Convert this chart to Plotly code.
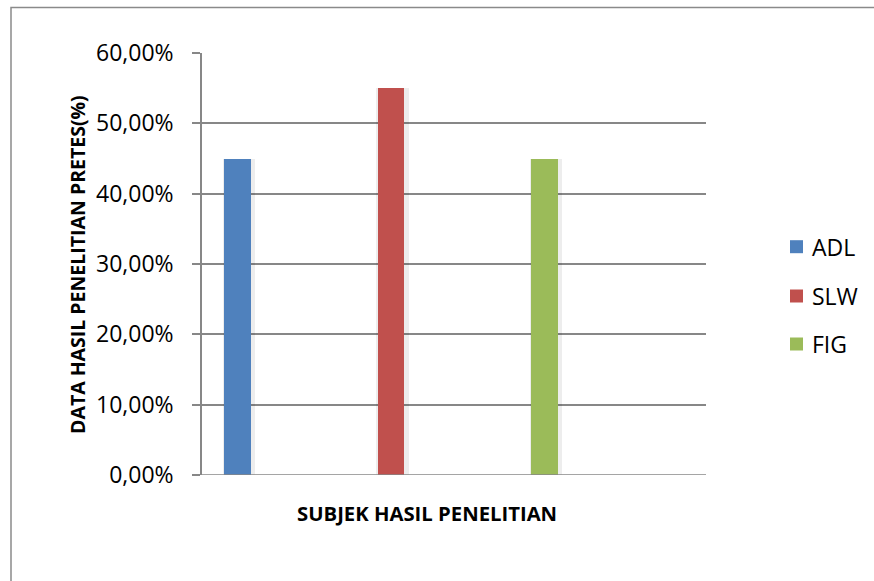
import plotly.graph_objects as go

# Data
subjects = ["ADL", "SLW", "FIG"]
pretest_scores = [0.45, 0.55, 0.45]
bar_colors = ["#4F81BD", "#C0504D", "#9BBB59"]
y_ticks = [0, 0.1, 0.2, 0.3, 0.4, 0.5, 0.6]

W, H = 874, 581
L, R, T, B = 202, 168, 53, 106  # plot area margins in px
PW, PH = W - L - R, H - T - B
BAR_W = 0.1725
UNIT_PX = 153.6  # px per category step on the x axis


def px_x(px):
    return (px - L) / PW


def px_y(py):
    return (H - B - py) / PH


FONT = "Open Sans"
GRID = "#878787"

fig = go.Figure()

# Soft drop shadow behind each bar
for i, val in enumerate(pretest_scores):
    fig.add_trace(go.Bar(
        x=[i + 1.5 / UNIT_PX], y=[val], width=BAR_W + 6 / UNIT_PX,
        marker=dict(color="rgba(0,0,0,0.07)", line=dict(width=0)),
        hoverinfo="skip", showlegend=False,
    ))

for i, (name, val, col) in enumerate(zip(subjects, pretest_scores, bar_colors)):
    fig.add_trace(go.Bar(
        x=[i], y=[val], name=name, width=BAR_W,
        marker=dict(color=col, line=dict(width=0)),
        hoverinfo="name+y", showlegend=False,
    ))

fig.update_layout(
    width=W, height=H,
    margin=dict(l=L, r=R, t=T, b=B, pad=0, autoexpand=False),
    paper_bgcolor="white", plot_bgcolor="white",
    separators=", ",
    font=dict(family=FONT, color="#000000"),
    showlegend=False,
    barmode="overlay",
    xaxis=dict(
        range=[-0.2298, 3.051], showticklabels=False, showgrid=False,
        zeroline=False, showline=False, ticks="", fixedrange=True,
    ),
    yaxis=dict(
        range=[0, 0.6], tickvals=y_ticks, tickformat=".2%",
        showgrid=True, gridcolor=GRID, gridwidth=1.5,
        showline=True, linecolor=GRID, linewidth=1.5,
        ticks="outside", ticklen=8, tickcolor=GRID, tickwidth=1.5,
        ticklabelstandoff=14,
        zeroline=False,
        tickfont=dict(family=FONT, size=23, color="#000000"),
    ),
    bargap=0,
)

# Baseline at 0 across the plot, extending under the tick mark
fig.add_shape(type="line", xref="paper", yref="y",
              x0=-8 / PW, x1=1, y0=0, y1=0,
              line=dict(color=GRID, width=1.5), layer="above")

# Outer chart frame
fig.add_shape(type="rect", xref="paper", yref="paper",
              x0=px_x(11), x1=2.0, y0=-2.0, y1=px_y(7.5),
              line=dict(color="#8a8a8a", width=1.5), layer="below")

# Legend: colour swatch + label per subject, stacked on the right
legend_centers = [246.7, 296, 344]
for name, col, cy in zip(subjects, bar_colors, legend_centers):
    fig.add_shape(type="rect", xref="paper", yref="paper",
                  x0=px_x(790), x1=px_x(803), y0=px_y(cy + 6.5), y1=px_y(cy - 6.5),
                  fillcolor=col, line=dict(width=0))
    fig.add_annotation(text=name, xref="paper", yref="paper",
                       x=px_x(810), y=px_y(cy), xanchor="left", yanchor="middle",
                       showarrow=False,
                       font=dict(family=FONT, size=23, color="#000000"))

# Axis titles
fig.add_annotation(
    text="<b>DATA HASIL PENELITIAN PRETES(%)</b>", textangle=-90,
    xref="paper", yref="paper",
    x=px_x(77), y=px_y(265),
    xanchor="center", yanchor="middle", showarrow=False,
    font=dict(family=FONT, size=19.5, color="#000000"),
)
fig.add_annotation(
    text="<b>SUBJEK HASIL PENELITIAN</b>",
    xref="paper", yref="paper",
    x=px_x(426.7), y=px_y(513),
    xanchor="center", yanchor="middle", showarrow=False,
    font=dict(family=FONT, size=20.3, color="#000000"),
)

fig.write_html("out.html")
